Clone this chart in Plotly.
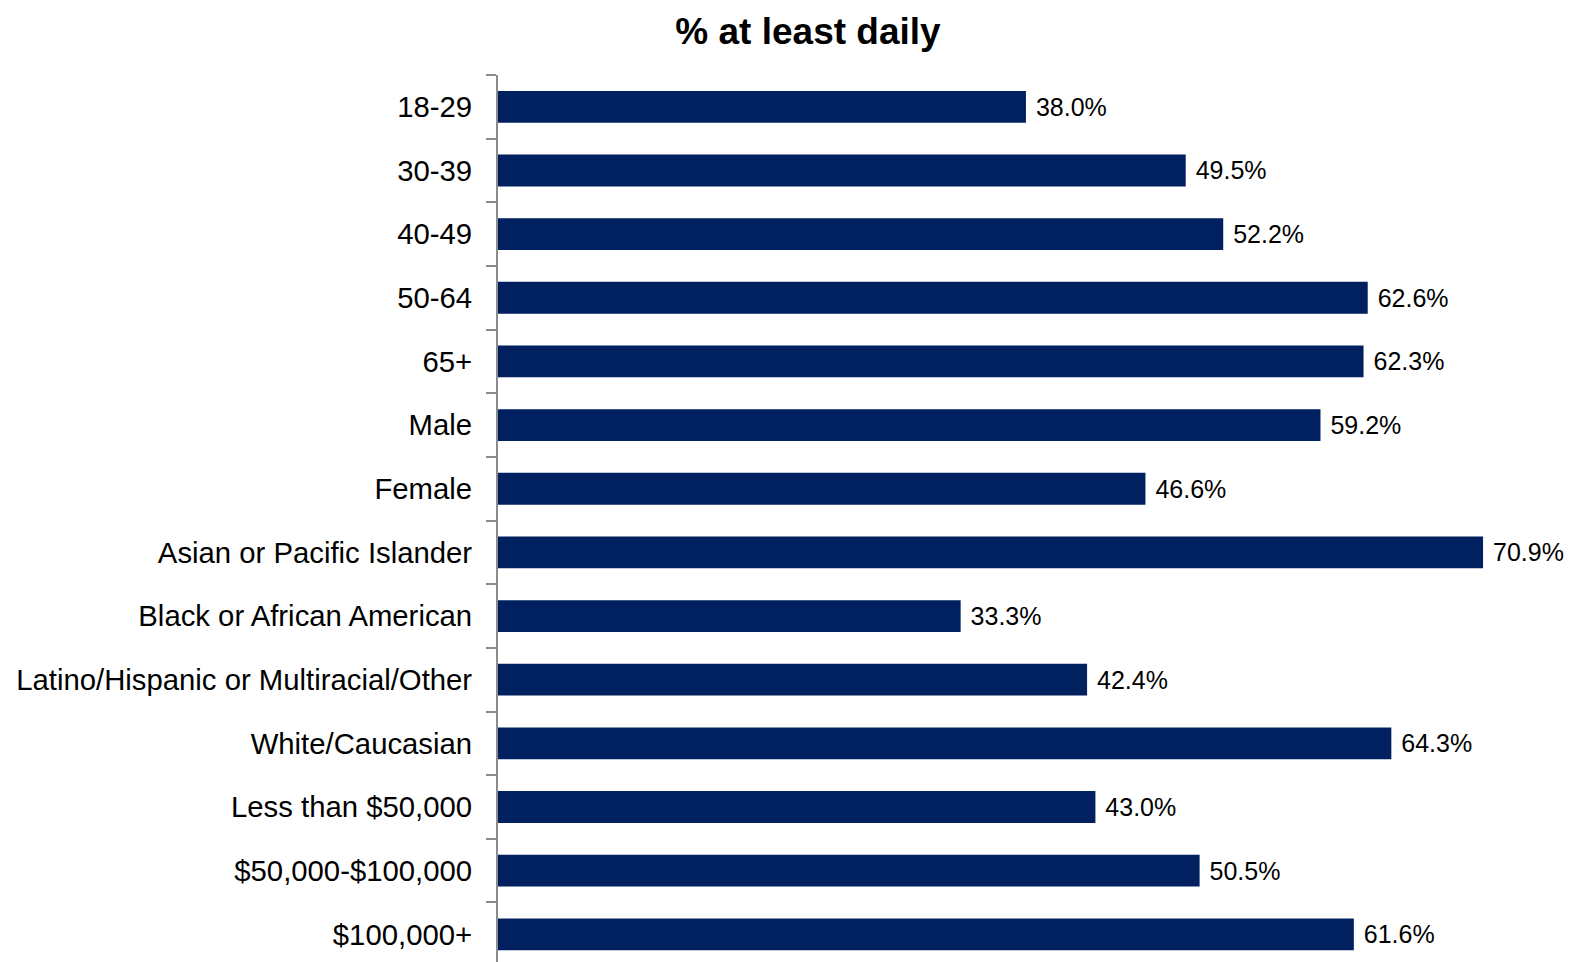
import plotly.graph_objects as go

categories = ["18-29", "30-39", "40-49", "50-64", "65+", "Male", "Female",
              "Asian or Pacific Islander", "Black or African American",
              "Latino/Hispanic or Multiracial/Other", "White/Caucasian",
              "Less than $50,000", "$50,000-$100,000", "$100,000+"]
values = [38.0, 49.5, 52.2, 62.6, 62.3, 59.2, 46.6, 70.9, 33.3, 42.4, 64.3, 43.0, 50.5, 61.6]
title_text = "% at least daily"

fig = go.Figure(go.Bar(
    y=categories, x=values, orientation="h",
    marker=dict(color="#00205F", line=dict(width=0)),
    text=values, texttemplate="\u00a0%{x:.1f}%",
    textposition="outside", cliponaxis=False,
    textfont=dict(family="Liberation Sans, Arial", size=25, color="#000000"),
    hoverinfo="skip",
))

# page body has an 8px default margin; compensate
W, H = 1568, 954
fig.update_layout(
    width=W, height=H,
    margin=dict(l=490, r=36, t=67, b=0, pad=0, autoexpand=False),
    paper_bgcolor="white", plot_bgcolor="white",
    bargap=0.5,
    showlegend=False,
    title=dict(text="<b>" + title_text + "</b>", x=800 / W, xanchor="center",
               y=1 - 23 / H, yanchor="middle",
               font=dict(family="Liberation Sans, Arial", size=37, color="#000000")),
    xaxis=dict(range=[0, 75], showgrid=False, zeroline=False, showticklabels=False,
               showline=False, ticks="", automargin=False),
    yaxis=dict(range=[13.435, -0.5], showgrid=False, zeroline=False, automargin=False,
               showline=True, linecolor="#8C8C8C", linewidth=2,
               ticks="outside", tickson="boundaries", ticklen=10,
               tickcolor="#8C8C8C", tickwidth=2,
               ticklabelstandoff=18,
               tickfont=dict(family="Liberation Sans, Arial", size=29.3, color="#000000")),
)

fig.write_html("out.html")
